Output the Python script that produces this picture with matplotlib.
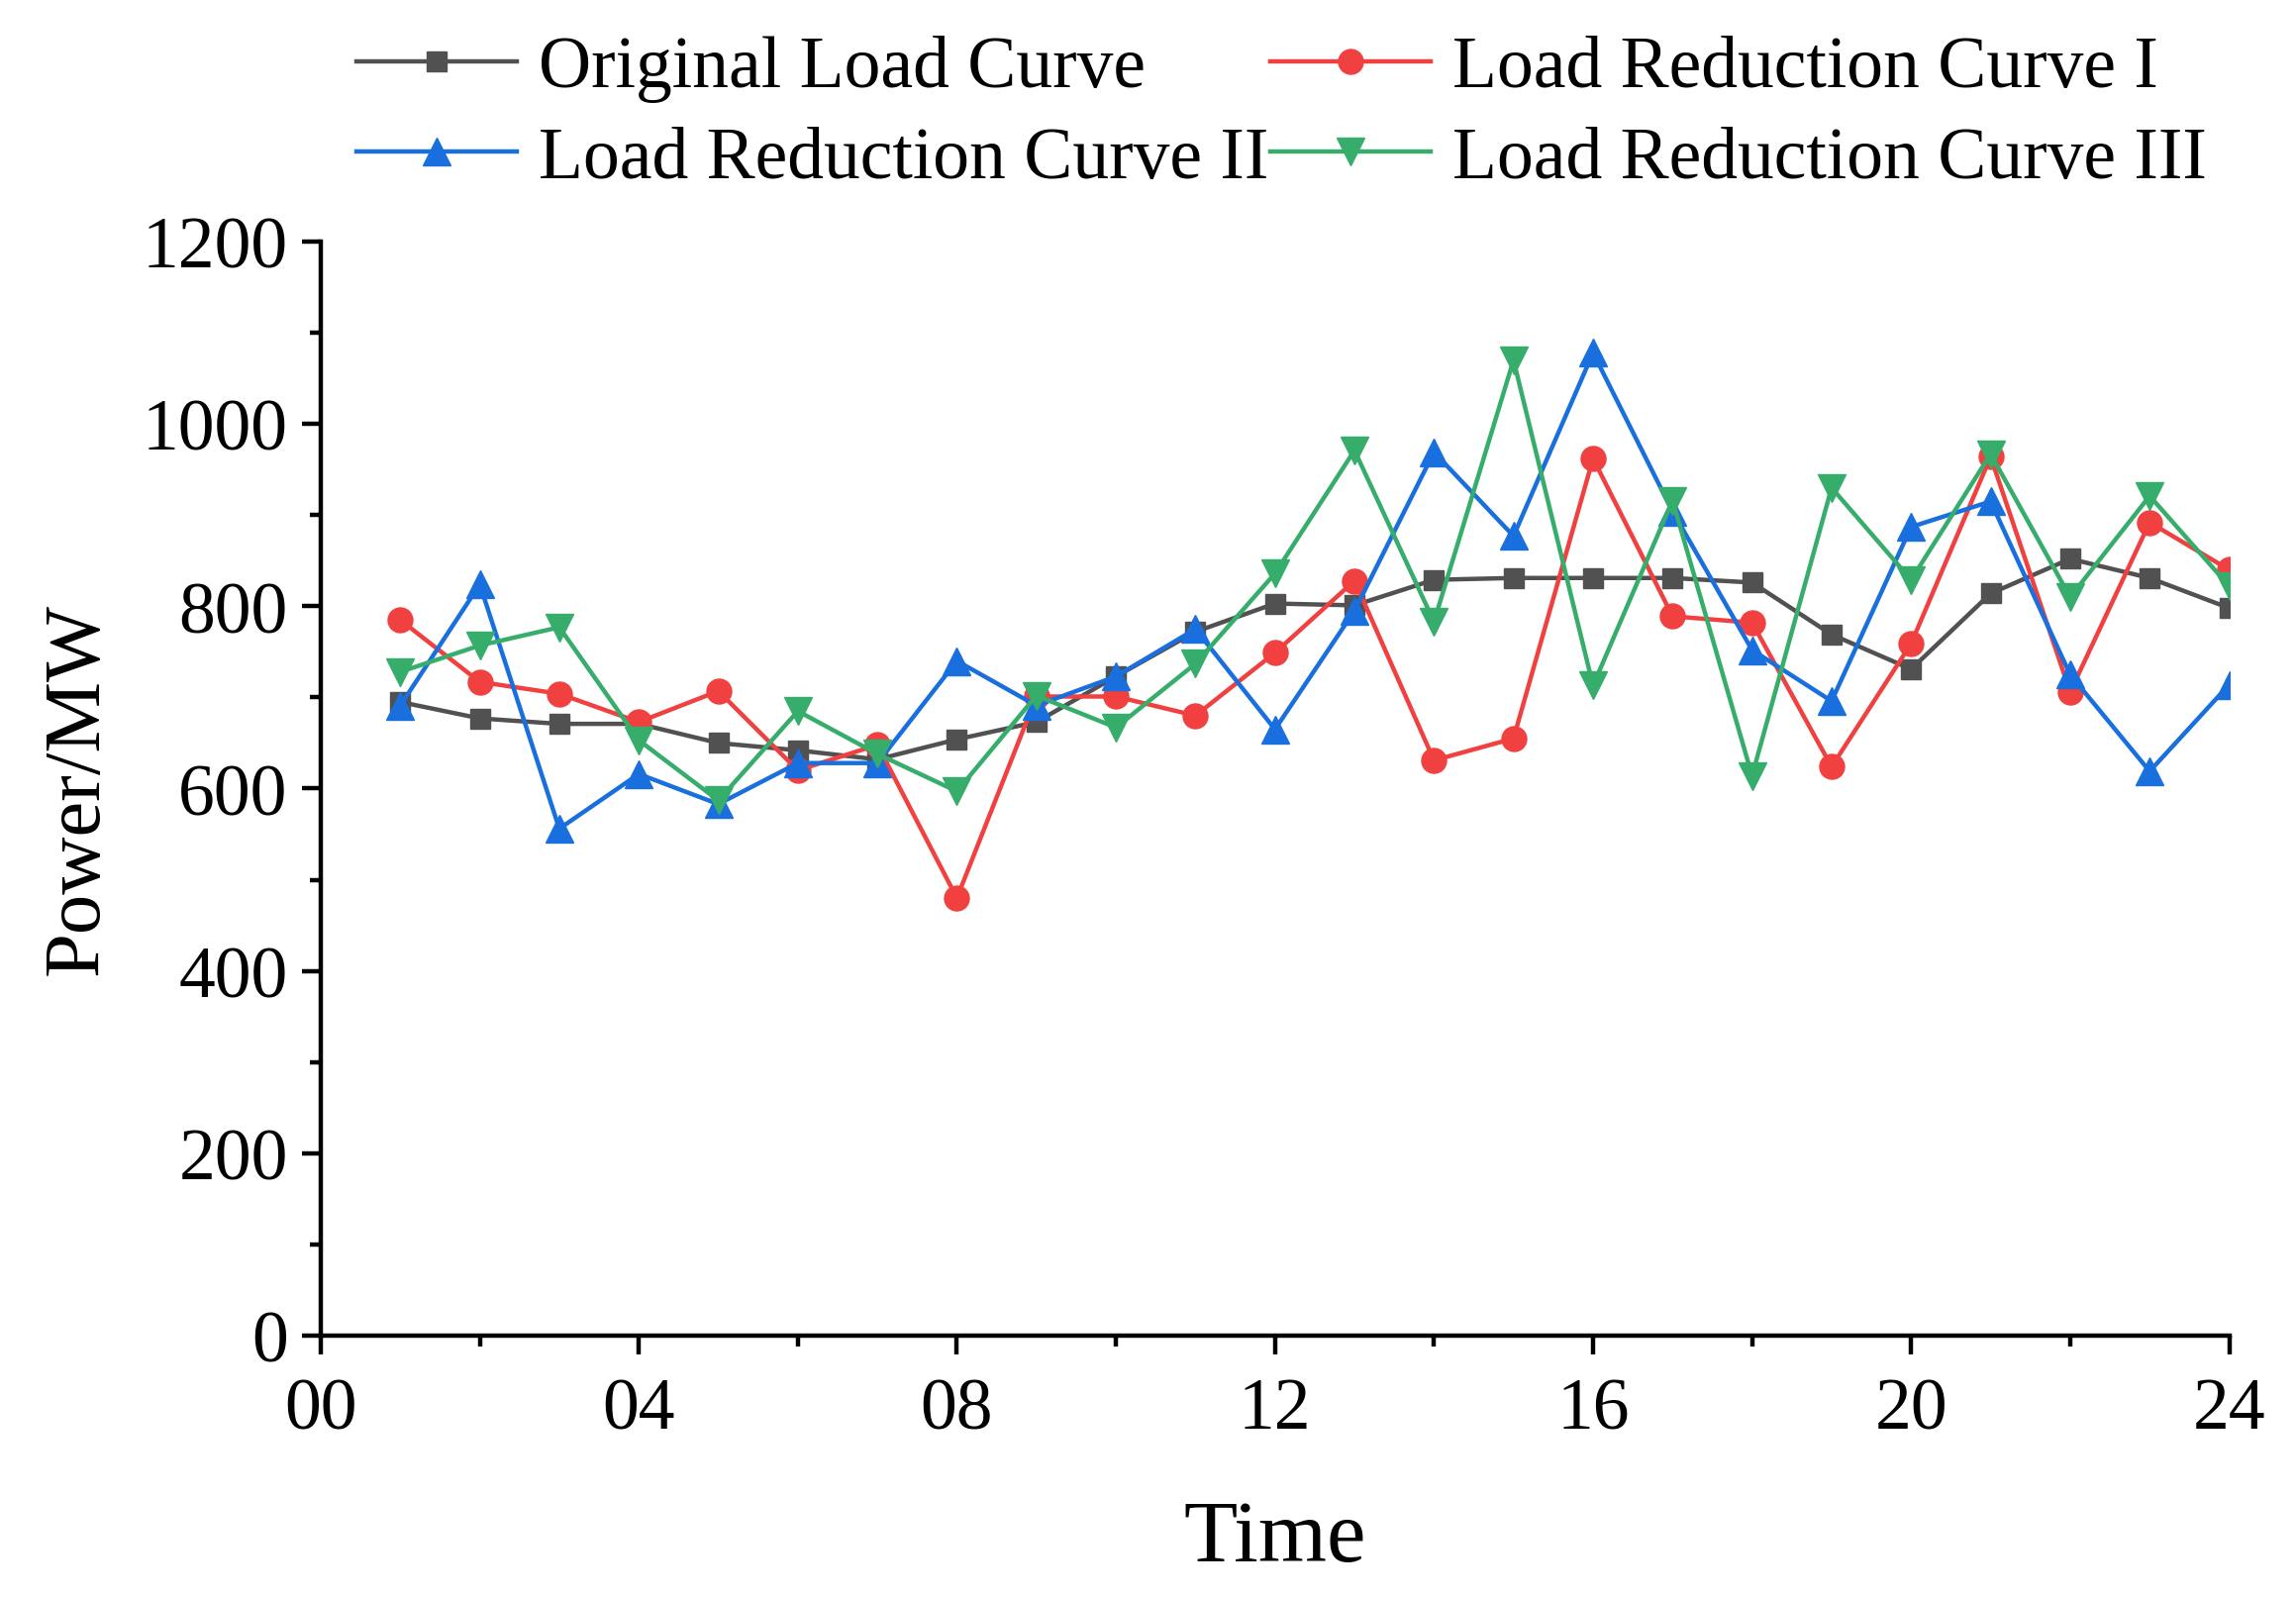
import numpy as np
import matplotlib
matplotlib.use('Agg')
import matplotlib.pyplot as plt
from matplotlib.ticker import MultipleLocator

plt.rcParams['font.family'] = ['Liberation Serif', 'DejaVu Serif']

hours = list(range(1, 25))
original = [695, 677, 671, 671, 650, 642, 632, 654, 673, 723, 772, 803,
            801, 829, 831, 831, 831, 826, 769, 731, 814, 852, 831, 798]
curve_1 = [785, 717, 704, 673, 707, 620, 648, 480, 701, 701, 680, 749,
           828, 631, 655, 962, 789, 782, 624, 759, 964, 706, 892, 840]
curve_2 = [691, 824, 556, 616, 583, 628, 628, 740, 691, 723, 775, 665,
           795, 969, 877, 1078, 904, 752, 696, 887, 915, 725, 619, 714]
curve_3 = [728, 757, 777, 653, 587, 685, 638, 597, 702, 667, 737, 836,
           971, 783, 1070, 713, 916, 614, 930, 829, 967, 810, 921, 822]
xtick_labels = ['00', '04', '08', '12', '16', '20', '24']

fig = plt.figure(figsize=(23.19, 16.15), dpi=100)
ax = fig.add_axes([0.1397, 0.1641, 0.8312, 0.6842])

lw = 3.2
h0, = ax.plot(hours, original, color='#515151', marker='s', lw=lw, ms=14.5, label='Original Load Curve')
h1, = ax.plot(hours, curve_1, color='#F14040', marker='o', lw=lw, ms=18, label='Load Reduction Curve I')
h2, = ax.plot(hours, curve_2, color='#1A6FDF', marker='^', lw=lw, ms=19.5, label='Load Reduction Curve II')
h3, = ax.plot(hours, curve_3, color='#37AD6B', marker='v', lw=lw, ms=19.5, label='Load Reduction Curve III')

ax.set_xlim(0, 24)
ax.set_ylim(0, 1200)
ax.set_xticks(range(0, 25, 4))
ax.set_xticklabels(xtick_labels)
ax.xaxis.set_minor_locator(MultipleLocator(2))
ax.yaxis.set_major_locator(MultipleLocator(200))
ax.yaxis.set_minor_locator(MultipleLocator(100))

for side in ['top', 'right']:
    ax.spines[side].set_visible(False)
for side in ['left', 'bottom']:
    ax.spines[side].set_linewidth(3.2)
ax.tick_params(which='major', direction='out', length=14, width=3.2, labelsize=53)
ax.tick_params(axis='x', which='major', pad=16)
ax.tick_params(axis='y', which='major', pad=10)
ax.tick_params(which='minor', direction='out', length=8, width=3.2)

ax.set_xlabel('Time', fontsize=64, labelpad=40)
ax.set_ylabel('Power/MW', fontsize=58, labelpad=20)

# row-wise order: Original, I / II, III
fig.legend([h0, h2, h1, h3], [h.get_label() for h in [h0, h2, h1, h3]],
           loc='upper left', bbox_to_anchor=(0.1522, 0.982), ncol=2, frameon=False,
           fontsize=53, handlelength=2.2, handletextpad=0.3, columnspacing=0.02,
           labelspacing=0.33, borderpad=0.1, borderaxespad=0)

fig.savefig('out.png', dpi=100)
